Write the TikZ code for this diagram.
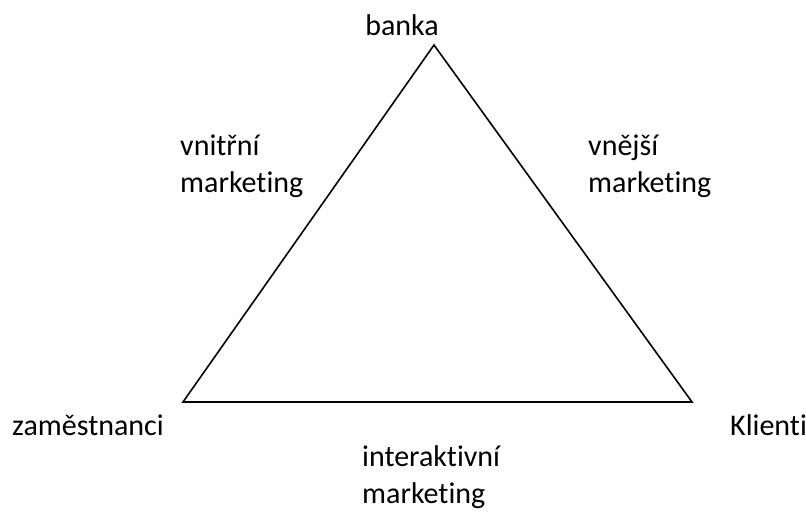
\documentclass[tikz,border=0pt]{standalone}
\usepackage{fontspec}
\setmainfont{Carlito}[Ligatures=NoCommon]
\begin{document}
\begin{tikzpicture}[x=1pt,y=-1pt,
  lbl/.style={font=\fontsize{30}{37}\selectfont,inner sep=0pt,align=left}]
  \useasboundingbox (0,0) rectangle (806,512);
  % corners of the triangle
  \coordinate (top) at (434,45);
  \coordinate (left) at (183,402);
  \coordinate (right) at (692,402);
  \draw[line width=1.6pt] (top) -- (left) -- (right) -- cycle;

  \node[lbl,anchor=base] (banka) at (402,35) {banka};
  \node[lbl,anchor=base west] (zam) at (12,435) {zaměstnanci};
  \node[lbl,anchor=base west] (klienti) at (730,435) {Klienti};
  \node[lbl,anchor=base west] (vnitr) at (180,192) {vnitřní\\marketing};
  \node[lbl,anchor=base west] (vnej) at (588,192) {vnější\\marketing};
  \node[lbl,anchor=base west] (inter) at (362,503) {interaktivní\\marketing};
\end{tikzpicture}
\end{document}
